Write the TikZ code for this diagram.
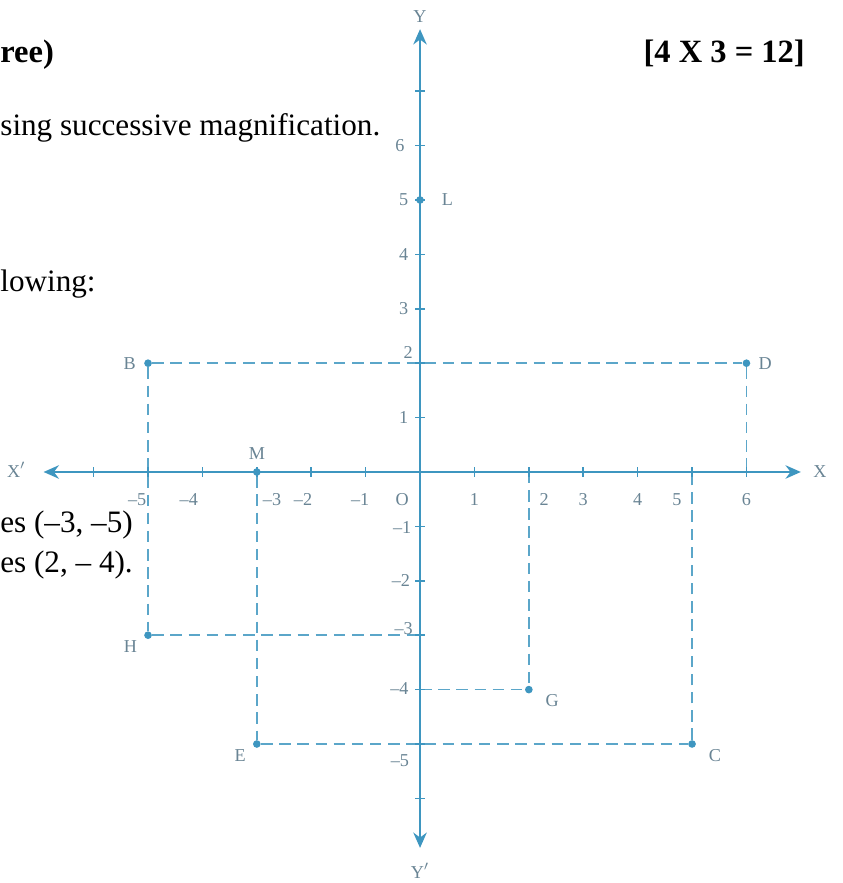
\documentclass[tikz,border=0pt]{standalone}
\usepackage{fontspec}
\setmainfont{Liberation Serif}
\usetikzlibrary{arrows.meta, positioning}

\definecolor{axisblue}{RGB}{62,150,192}
\definecolor{lblgray}{RGB}{105,132,148}

\begin{document}
\begin{tikzpicture}[
    >={Stealth[length=8pt, width=7pt]},
    axisline/.style={draw=axisblue, line width=1.3pt},
    guide/.style={draw=axisblue!85, line width=0.8pt, dash pattern=on 6pt off 3.5pt},
    ptdot/.style={circle, fill=axisblue, inner sep=0pt, minimum size=4pt},
    axlbl/.style={font=\fontsize{9.5}{11}\selectfont, text=lblgray, inner sep=1pt},
    qtext/.style={font=\fontsize{16.3}{19}\selectfont, inner sep=0pt},
    qhead/.style={font=\fontsize{17}{20}\selectfont\bfseries, inner sep=0pt}
  ]
  \useasboundingbox (-7.721,-7.555) rectangle (7.757,8.676);

  % Question text, cut off at the left
  \node[qhead, anchor=base west] (qhead) at (-7.721, 7.52) {ree)};
  \node[qhead, anchor=base east] (marks) at (7.08, 7.52) {[4 X 3 = 12]};
  \node[qtext, anchor=base west] (q1) at (-7.721, 6.19) {sing successive magnification.};
  \node[qtext, anchor=base west] (q2) at (-7.721, 3.31) {lowing:};
  \node[qtext, anchor=base west] (q3) at (-7.721, -1.12) {es (–3, –5)};
  \node[qtext, anchor=base west] (q4) at (-7.721, -1.84) {es (2, – 4).};

  % Points
  \node[ptdot] (B) at (-5, 2) {};
  \node[ptdot] (D) at (6, 2) {};
  \node[ptdot] (H) at (-5, -3) {};
  \node[ptdot] (M) at (-3, 0) {};
  \node[ptdot] (E) at (-3, -5) {};
  \node[ptdot] (C) at (5, -5) {};
  \node[ptdot] (G) at (2, -4) {};
  \node[ptdot] (L) at (0, 5) {};

  % Feet of the guides on the axes
  \coordinate (x6) at (6, 0);
  \coordinate (x5) at (5, 0);
  \coordinate (x2) at (2, 0);
  \coordinate (ym3) at (0, -3);
  \coordinate (ym4) at (0, -4);

  % Dashed guides
  \draw[guide] (B) -- (D);
  \draw[guide] (B) -- (H);
  \draw[guide] (H) -- (ym3);
  \draw[guide] (D) -- (x6);
  \draw[guide] (M) -- (E);
  \draw[guide] (E) -- (C);
  \draw[guide] (C) -- (x5);
  \draw[guide] (x2) -- (G);
  \draw[guide] (ym4) -- (G);

  % Axes
  \coordinate (xl) at (-6.92, 0);
  \coordinate (xr) at (7.0, 0);
  \coordinate (yb) at (0, -6.91);
  \coordinate (yt) at (0, 8.14);
  \draw[axisline, <->] (xl) -- (xr);
  \draw[axisline, <->] (yb) -- (yt);
  \foreach \i in {-6,...,6}
    \draw[axisblue, line width=0.8pt] (\i, -0.09) -- (\i, 0.09);
  \foreach \i in {-6,...,7}
    \draw[axisblue, line width=0.8pt] (-0.09, \i) -- (0.09, \i);

  % Axis names
  \node[axlbl] (Xn) at (-7.42, 0.04) {X$'$};
  \node[axlbl] (Xp) at (7.35, 0) {X};
  \node[axlbl] (Yp) at (0, 8.38) {Y};
  \node[axlbl] (Yn) at (0, -7.33) {Y$'$};

  % Tick numbers
  \foreach \x/\t [count=\k] in {-5.2/–5, -4.25/–4, -2.72/–3, -2.15/–2, -1.1/–1,
                                1/1, 2.28/2, 3/3, 4/4, 4.72/5, 6/6}
    \node[axlbl] (xt\k) at (\x, -0.5) {\t};
  \node[axlbl] (O) at (-0.33, -0.5) {O};
  \foreach \y/\yy/\t [count=\k] in {1/-0.3/1, 2.2/-0.22/2, 3/-0.3/3, 4/-0.3/4,
                                    5/-0.3/5, 6/-0.37/6, -1.02/-0.33/–1,
                                    -2/-0.35/–2, -2.88/-0.3/–3, -3.98/-0.38/–4,
                                    -5.3/-0.37/–5}
    \node[axlbl] (yt\k) at (\yy, \y) {\t};

  % Point names
  \node[axlbl, left=3pt of B] (Bl) {B};
  \node[axlbl, right=3pt of D] (Dl) {D};
  \node[axlbl, below left=0pt and 3pt of H] (Hl) {H};
  \node[axlbl, above=3pt of M] (Ml) {M};
  \node[axlbl, below left=0pt and 3pt of E] (El) {E};
  \node[axlbl, below right=0pt and 6pt of C] (Cl) {C};
  \node[axlbl, below right=0pt and 6pt of G] (Gl) {G};
  \node[axlbl, right=8pt of L] (Ll) {L};
\end{tikzpicture}
\end{document}
